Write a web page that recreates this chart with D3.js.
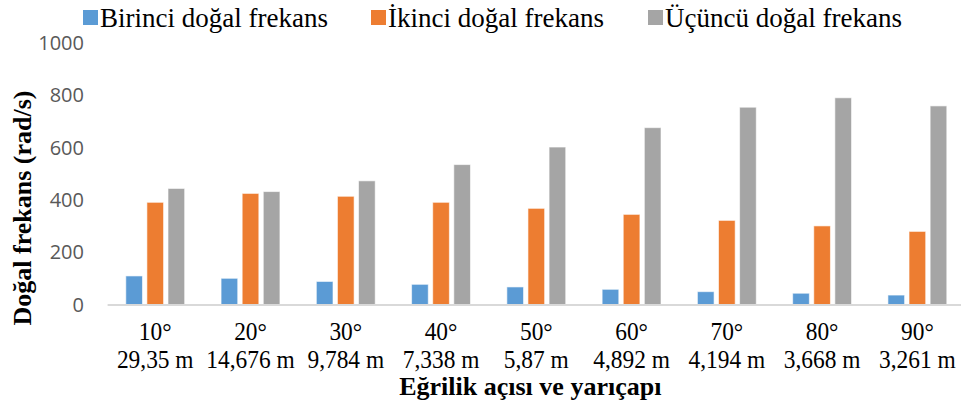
<!DOCTYPE html>
<html>
<head>
<meta charset="utf-8">
<script src="https://cdn.jsdelivr.net/npm/d3@7"></script>
<style>
  body { margin: 0; background: #fff; }
  #chart { width: 961px; height: 407px; }
</style>
</head>
<body>
<div id="chart"></div>
<script>
// Categories: bend angle and radius
const angles = ["10°", "20°", "30°", "40°", "50°", "60°", "70°", "80°", "90°"];
const radii = ["29,35 m", "14,676 m", "9,784 m", "7,338 m", "5,87 m", "4,892 m", "4,194 m", "3,668 m", "3,261 m"];

// Series (rad/s)
const seriesNames = ["Birinci doğal frekans", "İkinci doğal frekans", "Üçüncü doğal frekans"];
const first = [109, 100, 88, 77, 67, 58, 49, 43, 36];
const second = [390, 424, 413, 390, 367, 344, 321, 300, 279];
const third = [443, 431, 472, 534, 601, 675, 753, 789, 758];
const yTicks = [0, 200, 400, 600, 800, 1000];

const colors = ["#5b9bd5", "#ed7d31", "#a5a5a5"];
const seriesValues = [first, second, third];

const width = 961, height = 407;
const plot = { left: 107.6, right: 965, top: 42.5, bottom: 304.5 };

const svg = d3.select("#chart").append("svg")
    .attr("width", width)
    .attr("height", height);

// Scales
const x0 = d3.scaleBand()
    .domain(angles)
    .range([plot.left, plot.right])
    .paddingInner(0.382)
    .paddingOuter(0.191);

const x1 = d3.scaleBand()
    .domain(seriesNames)
    .range([0, x0.bandwidth()])
    .paddingInner(0.21)
    .paddingOuter(0);

const y = d3.scaleLinear()
    .domain([0, 1000])
    .range([plot.bottom, plot.top]);

// Y tick labels (no axis line, no gridlines)
svg.append("g")
    .selectAll("text")
    .data(yTicks)
    .enter()
    .append("text")
    .attr("x", 84)
    .attr("y", d => y(d))
    .attr("dy", "0.36em")
    .attr("text-anchor", "end")
    .style("font-family", "'Open Sans', 'Liberation Sans', sans-serif")
    .style("font-size", "20px")
    .style("fill", "#595959")
    .text(d => d);

// Bars
const groups = svg.append("g")
    .selectAll("g")
    .data(angles)
    .enter()
    .append("g")
    .attr("transform", d => `translate(${x0(d)},0)`);

groups.selectAll("rect")
    .data((d, i) => seriesNames.map((s, j) => ({ series: s, value: seriesValues[j][i], color: colors[j] })))
    .enter()
    .append("rect")
    .attr("x", d => x1(d.series))
    .attr("y", d => y(d.value))
    .attr("width", x1.bandwidth())
    .attr("height", d => y(0) - y(d.value))
    .attr("fill", d => d.color)
    .attr("stroke", "#ffffff")
    .attr("stroke-opacity", 0.6)
    .attr("stroke-width", 1);

// X axis baseline
svg.append("line")
    .attr("x1", plot.left)
    .attr("x2", plot.right)
    .attr("y1", y(0) + 0.5)
    .attr("y2", y(0) + 0.5)
    .attr("stroke", "#d9d9d9")
    .attr("stroke-width", 2);

// X category labels (two lines), slightly condensed like the original
const xLabels = svg.append("g")
    .selectAll("g")
    .data(angles)
    .enter()
    .append("g")
    .attr("transform", d => `translate(${x0(d) + x0.bandwidth() / 2},0) scale(0.9,1)`)
    .append("text")
    .attr("text-anchor", "middle")
    .style("font-family", "'Liberation Serif', 'Times New Roman', serif")
    .style("font-size", "26px")
    .style("fill", "#000");

xLabels.append("tspan")
    .attr("x", 0)
    .attr("y", 340)
    .text(d => d);

xLabels.append("tspan")
    .attr("x", 0)
    .attr("y", 368)
    .text((d, i) => radii[i]);

// Axis titles
svg.append("text")
    .attr("x", (plot.left + plot.right) / 2 - 6)
    .attr("y", 395)
    .attr("text-anchor", "middle")
    .style("font-family", "'Liberation Serif', 'Times New Roman', serif")
    .style("font-weight", "bold")
    .style("font-size", "26px")
    .text("Eğrilik açısı ve yarıçapı");

svg.append("text")
    .attr("transform", "translate(31,208) rotate(-90)")
    .attr("text-anchor", "middle")
    .style("font-family", "'Liberation Serif', 'Times New Roman', serif")
    .style("font-weight", "bold")
    .style("font-size", "26px")
    .text("Doğal frekans (rad/s)");

// Legend
const legendX = [83, 371, 648];
const legend = svg.append("g")
    .selectAll("g")
    .data(seriesNames)
    .enter()
    .append("g")
    .attr("transform", (d, i) => `translate(${legendX[i]},0)`);

legend.append("rect")
    .attr("x", 0)
    .attr("y", 10)
    .attr("width", 15)
    .attr("height", 15)
    .attr("fill", (d, i) => colors[i]);

legend.append("text")
    .attr("x", 17)
    .attr("y", 27)
    .style("font-family", "'Liberation Serif', 'Times New Roman', serif")
    .style("font-size", "27px")
    .style("fill", "#000")
    .text(d => d);
</script>
</body>
</html>
